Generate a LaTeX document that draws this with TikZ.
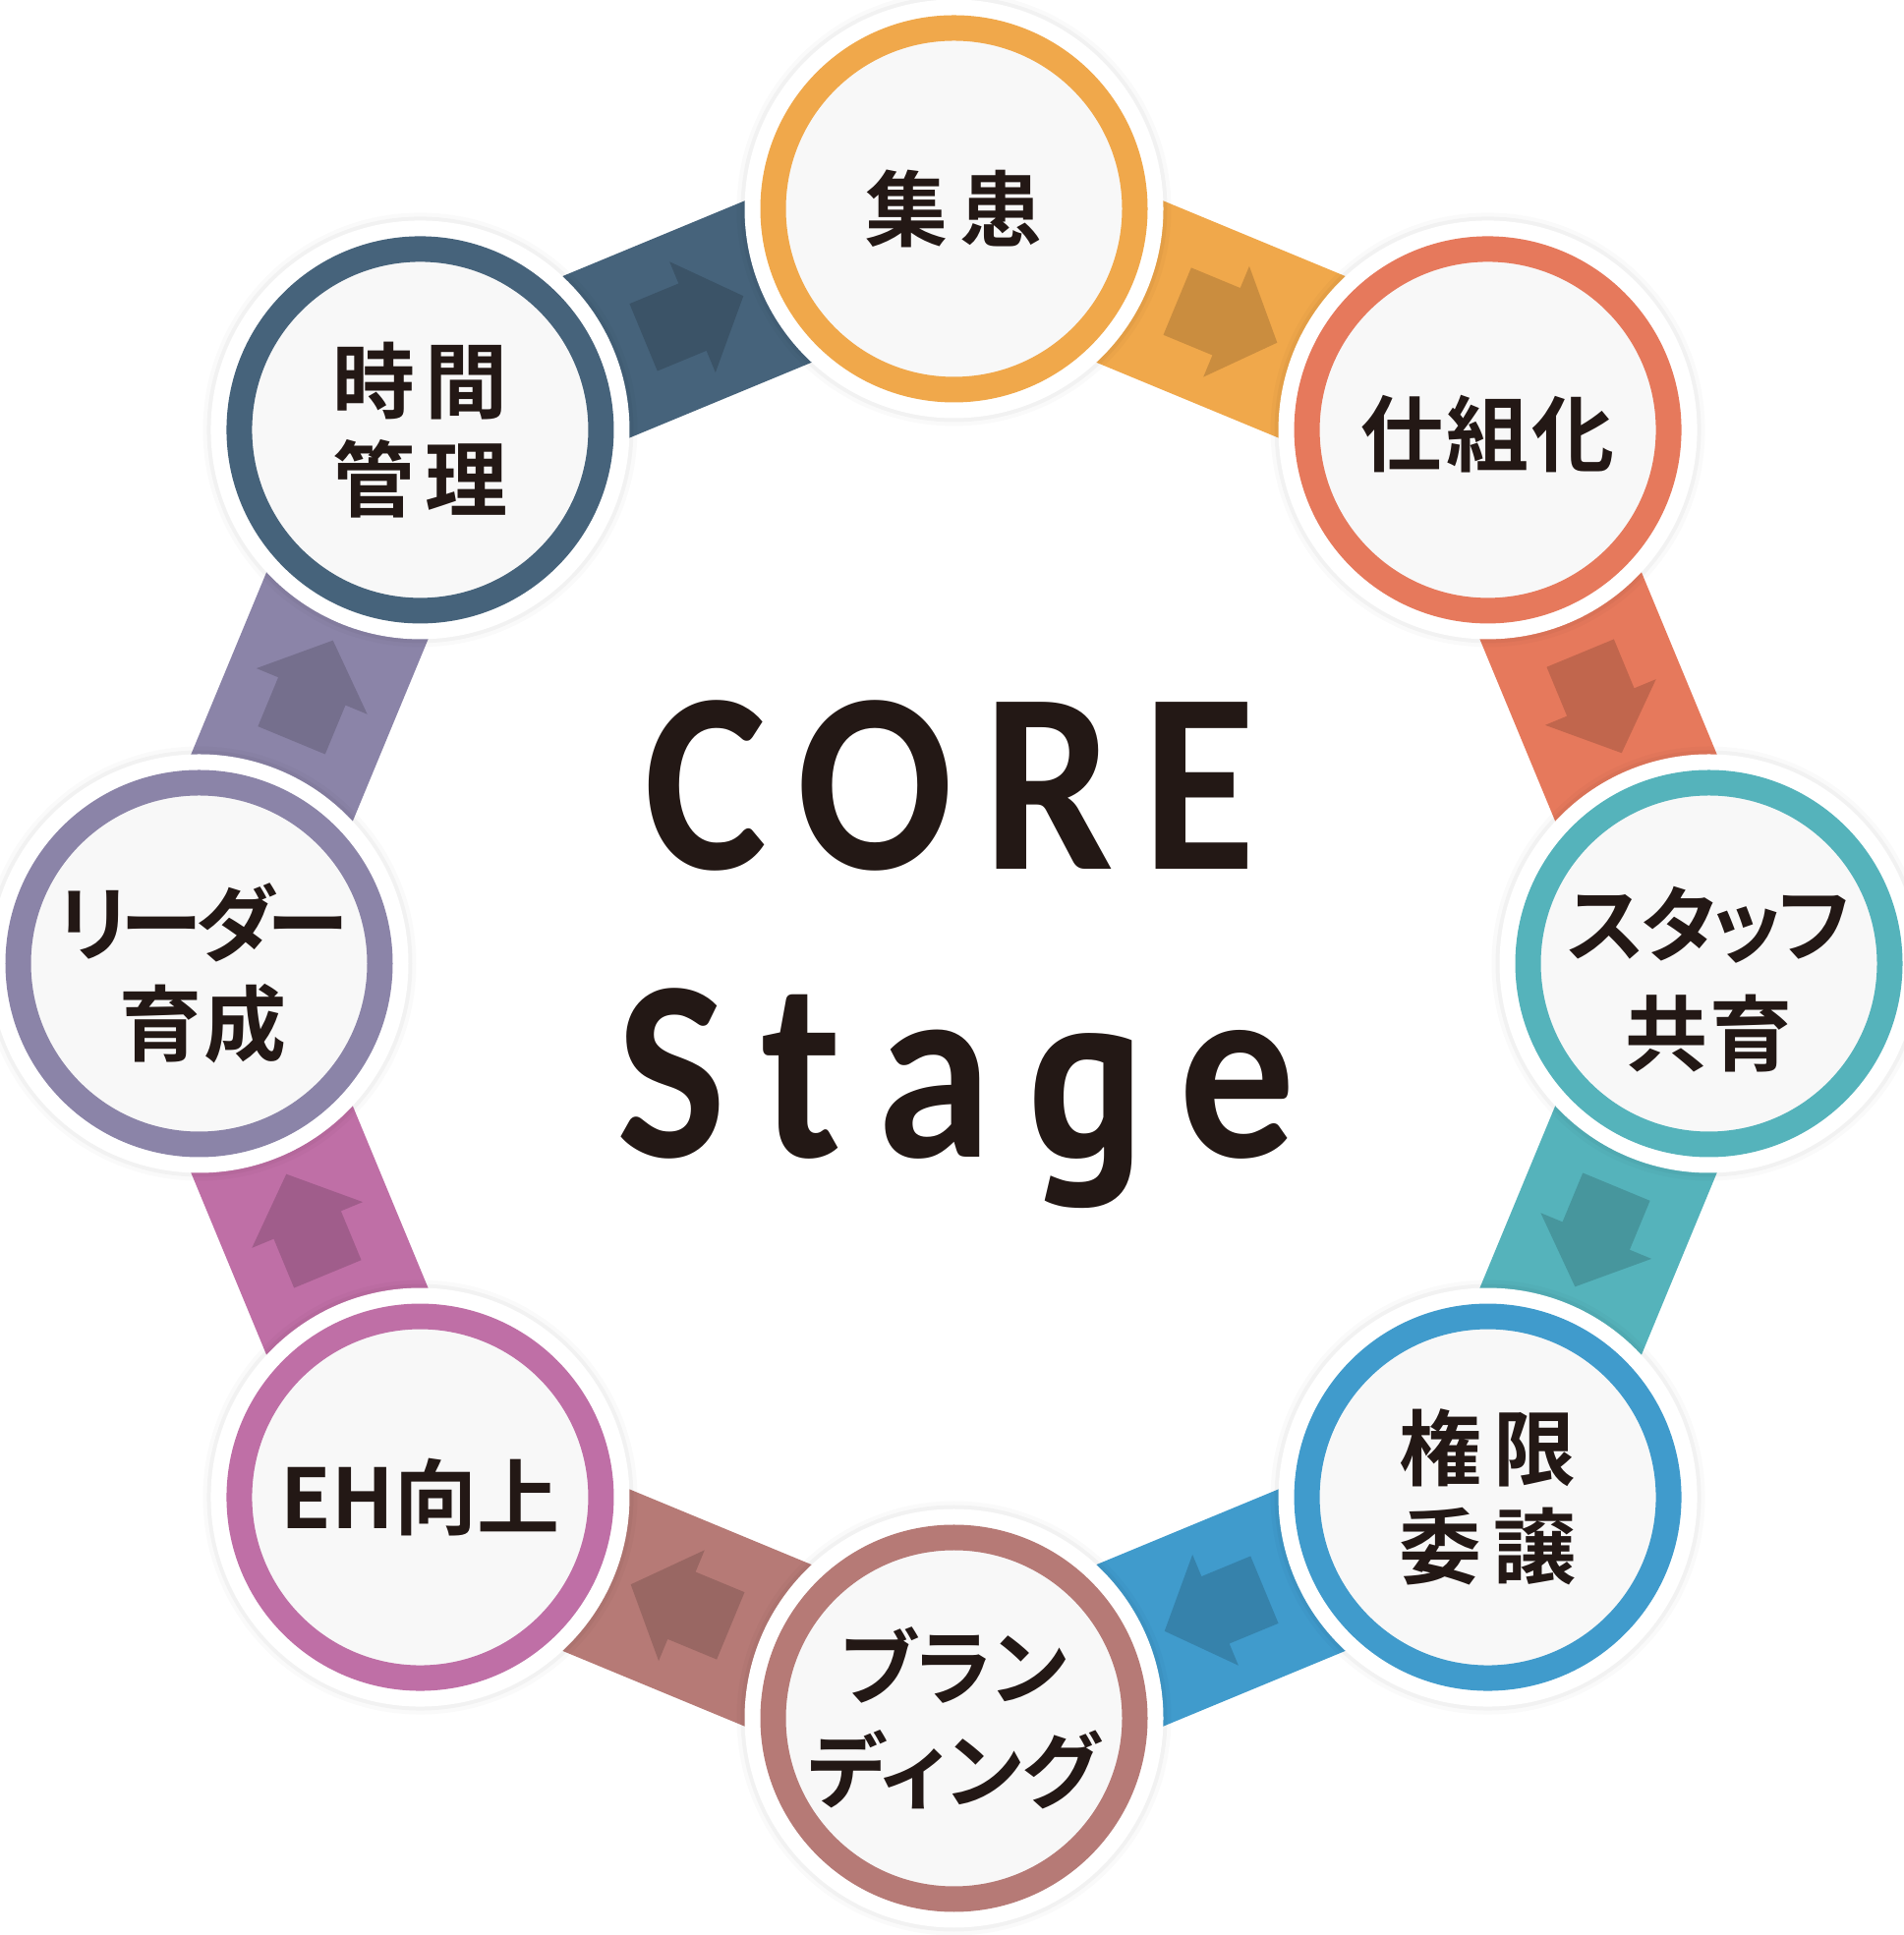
\documentclass[tikz,border=0pt]{standalone}
\usepackage{fontspec}
\newfontfamily\jp{Noto Sans CJK JP Bold}
\newfontfamily\jpp{Noto Sans CJK JP Bold}[RawFeature=+palt]
\newfontfamily\ttl{Carlito Bold}[FakeStretch=0.9]
\newfontfamily\gfnt{PT Sans Bold}[FakeStretch=0.9]
\definecolor{c0}{HTML}{F0A84B}
\definecolor{c1}{HTML}{E6795C}
\definecolor{c2}{HTML}{55B3BB}
\definecolor{c3}{HTML}{409BCC}
\definecolor{c4}{HTML}{B67A76}
\definecolor{c5}{HTML}{BF6FA6}
\definecolor{c6}{HTML}{8B84A8}
\definecolor{c7}{HTML}{46637B}
\definecolor{nodefill}{HTML}{F8F8F8}
\definecolor{ink}{HTML}{231815}
\pgfdeclarelayer{background}
\pgfsetlayers{background,main}
\tikzset{
  ring/.style={circle, inner sep=0pt, minimum size=368pt, fill=nodefill,
    draw=#1, line width=26pt,
    preaction={draw=black, draw opacity=0.02, line width=74pt},
    preaction={draw=black, draw opacity=0.03, line width=66pt},
    preaction={draw=white, line width=58pt}},
  lbl/.style={text=ink, align=center, inner sep=0pt,
    font=\jp\fontsize{84}{100}\selectfont},
  band/.style={line width=178pt},
  title/.style={text=ink, font=\ttl\fontsize{262}{262}\selectfont,
    inner sep=0pt, anchor=base},
}
\begin{document}
\begin{tikzpicture}[x=1pt,y=1pt]
\useasboundingbox (0,0) rectangle (1936,1969);
\coordinate (C) at (970.5,988.5);
\node[ring=c0] (n0) at ([shift={(90:768)}]C) {};
\node[ring=c1] (n1) at ([shift={(45:768)}]C) {};
\node[ring=c2] (n2) at ([shift={(0:768)}]C) {};
\node[ring=c3] (n3) at ([shift={(-45:768)}]C) {};
\node[ring=c4] (n4) at ([shift={(-90:768)}]C) {};
\node[ring=c5] (n5) at ([shift={(-135:768)}]C) {};
\node[ring=c6] (n6) at ([shift={(180:768)}]C) {};
\node[ring=c7] (n7) at ([shift={(135:768)}]C) {};
\node[lbl] (t0) at (n0.center) {集\hspace{12pt}患};
\node[lbl] (t1) at ([yshift=-4pt]n1.center) {仕\hspace{3pt}組\hspace{3pt}化};
\node[lbl, font=\jp\fontsize{84}{111}\selectfont] (t2) at ([yshift=-16pt]n2.center) {{\jpp ス\hspace{-4pt}タ\hspace{-4pt}ッ\hspace{-4pt}フ}\\共\hspace{2pt}育};
\node[lbl] (t3) at (n3.center) {権\hspace{12pt}限\\委\hspace{12pt}譲};
\node[lbl, font=\jp\fontsize{84}{105}\selectfont] (t4) at (n4.center) {{\jpp ブラン}\\{\jpp ディング}};
\node[lbl] (t5) at (n5.center) {EH向上};
\node[lbl, font=\jp\fontsize{84}{102}\selectfont] (t6) at ([yshift=-10pt,xshift=4pt]n6.center) {{\jpp リ\hspace{-7pt}ー\hspace{-7pt}ダ\hspace{-7pt}ー}\\育\hspace{2pt}成};
\node[lbl] (t7) at (n7.center) {時\hspace{10pt}間\\管\hspace{10pt}理};
\node[title] (core) at (967,1084) {C\hspace{30pt}O\hspace{30pt}R\hspace{30pt}E};
\node[title] (stage) at (973,791) {S\hspace{36pt}t\hspace{36pt}a\hspace{36pt}{\gfnt\fontsize{246}{246}\selectfont g}\hspace{36pt}e};
\begin{pgfonlayer}{background}
\fill[white] (0,0) rectangle (1936,1969);
\foreach \i/\j/\t in {0/1/90, 1/2/45, 2/3/0, 3/4/-45, 4/5/-90, 5/6/-135, 6/7/-180, 7/0/-225} {
  \draw[band, draw=c\i] (n\i.center) -- (n\j.center) coordinate[midway] (m\i);
  \fill[c\i!84!black, shift={(m\i)}, rotate=\t-112.5]
    (-48,37) -- (6,37) -- (6,61) -- (62,0) -- (6,-61) -- (6,-37) -- (-48,-37) -- cycle;
}
\end{pgfonlayer}
\end{tikzpicture}
\end{document}
